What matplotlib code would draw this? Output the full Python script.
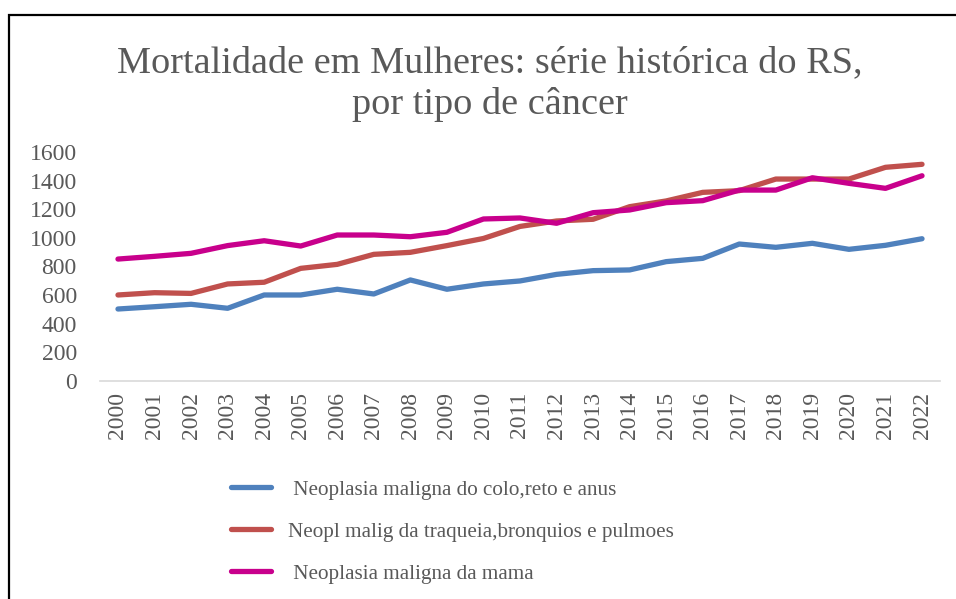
import matplotlib.pyplot as plt
from matplotlib.patches import Rectangle

years = [str(y) for y in range(2000, 2023)]
colo = [503, 519, 536, 508, 601, 601, 641, 608, 706, 641, 678, 699, 745, 771,
        776, 834, 857, 957, 934, 962, 920, 948, 994]
pulmao = [601, 617, 612, 678, 690, 787, 815, 885, 899, 946, 996, 1080, 1118, 1130,
          1218, 1258, 1318, 1330, 1411, 1411, 1411, 1493, 1514]
mama = [852, 871, 892, 946, 980, 943, 1020, 1020, 1008, 1039, 1132, 1139, 1102, 1176,
        1195, 1246, 1260, 1334, 1334, 1420, 1381, 1346, 1434]
labels = [' Neoplasia maligna do colo,reto e anus',
          'Neopl malig da traqueia,bronquios e pulmoes',
          ' Neoplasia maligna da mama']
colors = ['#4F81BD', '#C0504D', '#C8008C']
yticks = [0, 200, 400, 600, 800, 1000, 1200, 1400, 1600]

plt.rcParams['font.family'] = ['Liberation Serif', 'DejaVu Serif']
txt = '#595959'

fig = plt.figure(figsize=(9.56, 5.99), dpi=100)
ax = fig.add_axes([99.7 / 956, 1 - 381 / 599, 840.6 / 956, 229 / 599])

x = range(len(years))
for vals, c, lab in zip([colo, pulmao, mama], colors, labels):
    ax.plot(x, vals, color=c, lw=3.8, label=lab, solid_capstyle='round')

ax.set_xlim(-0.5, len(years) - 0.5)
ax.set_ylim(0, 1600)
ax.set_yticks(yticks)
ax.set_yticklabels([str(v) for v in yticks], fontsize=17, color=txt)
ax.set_xticks(list(x))
ax.set_xticklabels(years, rotation=90, fontsize=17, color=txt)
ax.tick_params(axis='y', length=0, pad=16.5)
ax.tick_params(axis='x', length=0, pad=8)
for s in ['top', 'right', 'left']:
    ax.spines[s].set_visible(False)
ax.spines['bottom'].set_color('#D9D9D9')
ax.spines['bottom'].set_linewidth(1.2)

fig.text(490 / 956, 1 - 84 / 599, 'Mortalidade em Mulheres: série histórica do RS,\npor tipo de câncer',
         ha='center', va='center', fontsize=27.5, color=txt, linespacing=1.25)

fig.legend(loc='upper left', bbox_to_anchor=(212 / 956, 1 - 461 / 599), frameon=False,
           fontsize=15.2, labelcolor=txt, handlelength=1.9, handletextpad=0.8,
           labelspacing=1.05)

# chart frame
fig.patches.append(Rectangle((9 / 956, -0.1), 1.1, 1 - 15 / 599 + 0.1, transform=fig.transFigure,
                             fill=False, edgecolor='black', lw=1.6))

fig.savefig('out.png', dpi=100)
